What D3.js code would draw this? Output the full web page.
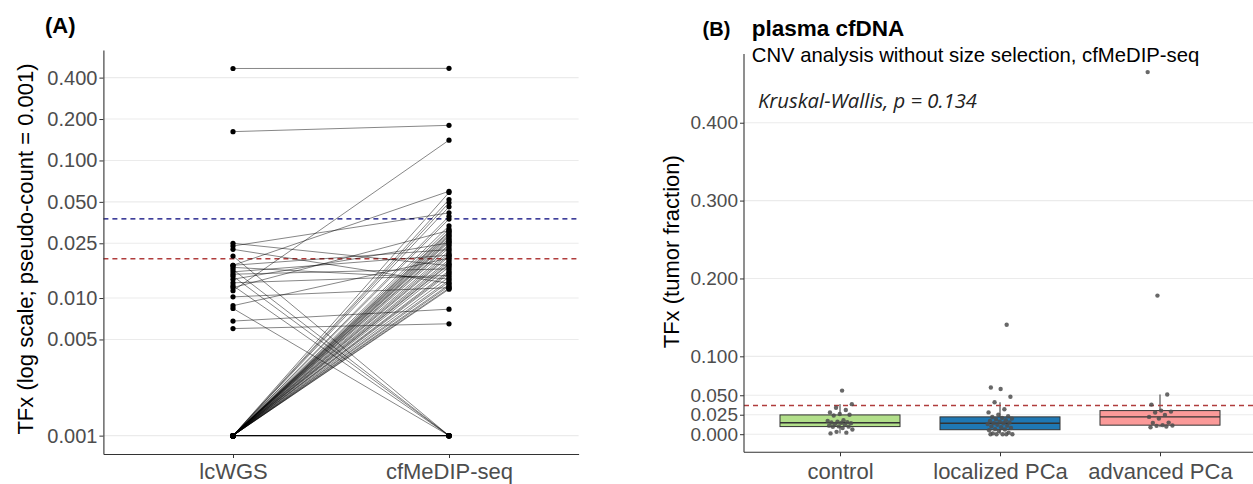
<!DOCTYPE html>
<html><head><meta charset="utf-8">
<script src="https://cdn.jsdelivr.net/npm/d3@7"></script>
<style>
body{margin:0;background:#fff;}
svg{display:block;font-family:"Liberation Sans",Arial,sans-serif;}
</style>
</head><body>
<svg id="c" width="1253" height="484"></svg>
<script>
// ---------------- Panel A data (paired samples, raw TFx) ----------------
const methods = ["lcWGS", "cfMeDIP-seq"];
const pseudoCount = 0.001;
const lcwgsTFx = [
  0.465, 0.161, 0.0103, 0.0240, 0.0229, 0.0216, 0.0192, 0.0163, 0.0163, 0.0157,
  0.0151, 0.0145, 0.0139, 0.0134, 0.0127, 0.0119, 0.0113, 0.0109, 0.0092, 0.0078,
  0.0074, 0.0058, 0.0050,
  0, 0, 0, 0, 0, 0, 0, 0, 0, 0,
  0, 0, 0, 0, 0, 0, 0, 0, 0, 0,
  0, 0, 0, 0, 0, 0, 0, 0, 0, 0,
  0, 0, 0, 0, 0, 0, 0, 0, 0,
  0, 0, 0, 0, 0, 0
];
const cfmedipTFx = [
  0.466, 0.179, 0.1395, 0.0162, 0.0406, 0.0118, 0, 0.0587, 0.0215, 0.0128,
  0, 0.0195, 0.0153, 0, 0.0242, 0.0136, 0, 0.0300, 0.0109, 0.0185,
  0, 0.0073, 0.0055,
  0.0575, 0.0510, 0.0482, 0.0450, 0.0383, 0.0365, 0.0325, 0.0308, 0.0295, 0.0290,
  0.0282, 0.0275, 0.0270, 0.0262, 0.0255, 0.0250, 0.0245, 0.0235, 0.0230, 0.0222,
  0.0210, 0.0202, 0.0195, 0.0190, 0.0180, 0.0174, 0.0168, 0.0165, 0.0158, 0.0148,
  0.0144, 0.0140, 0.0132, 0.0125, 0.0121, 0.0115, 0.0112, 0.0108, 0.0106,
  0, 0, 0, 0, 0, 0
];
const ticksA = [0.001, 0.005, 0.010, 0.025, 0.050, 0.100, 0.200, 0.400];
const thresholdBlueA = 0.0376;
const thresholdRedA = 0.0193;

// ---------------- Panel B data (cfMeDIP-seq TFx per group) ----------------
const groups = ["control", "localized PCa", "advanced PCa"];
const controlTFx = [0.001, 0.002, 0.003, 0.006, 0.008, 0.0095, 0.0097, 0.010, 0.011, 0.012,
  0.013, 0.014, 0.0145, 0.015, 0.0155, 0.016, 0.017, 0.018, 0.024, 0.025,
  0.026, 0.028, 0.031, 0.034, 0.0386, 0.056];
const localizedTFx = [0, 0, 0, 0, 0, 0.001, 0.002, 0.004, 0.005, 0.006,
  0.0065, 0.008, 0.009, 0.010, 0.011, 0.012, 0.013, 0.014, 0.0142, 0.015,
  0.016, 0.017, 0.018, 0.019, 0.020, 0.021, 0.022, 0.023, 0.025, 0.028,
  0.032, 0.041, 0.048, 0.058, 0.060, 0.1405];
const advancedTFx = [0.009, 0.0098, 0.0107, 0.0112, 0.0116, 0.0145, 0.0149, 0.020, 0.0222,
  0.0248, 0.0278, 0.029, 0.0303, 0.038, 0.051, 0.178, 0.465];
const ticksB = [0, 0.025, 0.050, 0.100, 0.200, 0.300, 0.400];
const thresholdRedB = 0.0368;
const groupColors = ["#b2df8a", "#1f78b4", "#fb9a99"];

// ---------------- drawing ----------------
const svg = d3.select("#c");
const fmt = d3.format(".3f");
const GRID = "#ebebeb", AXIS = "#333333", TXT = "#4d4d4d";
const RED = "#b03c3c", NAVY = "#00007a";

// ===== Panel A =====
const A = {left: 103.4, right: 578.6, top: 50, bottom: 454};
const pairs = lcwgsTFx.map((v, i) => ({a: v + pseudoCount, b: cfmedipTFx[i] + pseudoCount}));
const allA = pairs.flatMap(d => [d.a, d.b]);
const lmin = Math.log10(d3.min(allA)), lmax = Math.log10(d3.max(allA));
const padA = (lmax - lmin) * 0.05;
const yA = d3.scaleLog().domain([10 ** (lmin - padA), 10 ** (lmax + padA)]).range([A.bottom, A.top]);
const xA = d3.scalePoint().domain(methods).range([A.left, A.right]).padding(0.6);

const gA = svg.append("g");
gA.selectAll("line.grid").data(ticksA).join("line")
  .attr("x1", A.left).attr("x2", A.right)
  .attr("y1", d => yA(d)).attr("y2", d => yA(d))
  .attr("stroke", GRID).attr("stroke-width", 1.1);

gA.append("line").attr("x1", A.left).attr("x2", A.right)
  .attr("y1", yA(thresholdBlueA)).attr("y2", yA(thresholdBlueA))
  .attr("stroke", NAVY).attr("stroke-width", 1.4).attr("stroke-dasharray", "5,4");
gA.append("line").attr("x1", A.left).attr("x2", A.right)
  .attr("y1", yA(thresholdRedA)).attr("y2", yA(thresholdRedA))
  .attr("stroke", RED).attr("stroke-width", 1.4).attr("stroke-dasharray", "5,4");

gA.selectAll("line.pair").data(pairs).join("line")
  .attr("x1", xA(methods[0])).attr("x2", xA(methods[1]))
  .attr("y1", d => yA(d.a)).attr("y2", d => yA(d.b))
  .attr("stroke", "#000").attr("stroke-opacity", 0.5).attr("stroke-width", 0.95);

gA.selectAll("circle.a").data(pairs).join("circle")
  .attr("cx", xA(methods[0])).attr("cy", d => yA(d.a)).attr("r", 2.6).attr("fill", "#000");
gA.selectAll("circle.b").data(pairs).join("circle")
  .attr("cx", xA(methods[1])).attr("cy", d => yA(d.b)).attr("r", 2.6).attr("fill", "#000");

function styleAxis(g) {
  g.select(".domain").attr("stroke", AXIS).attr("stroke-width", 1.1);
  g.selectAll(".tick line").attr("stroke", AXIS).attr("stroke-width", 1);
  g.selectAll(".tick text").attr("fill", TXT).attr("font-family", '"Liberation Sans",Arial,sans-serif');
}
const axA = gA.append("g").attr("transform", `translate(${A.left},0)`)
  .call(d3.axisLeft(yA).tickValues(ticksA).tickFormat(fmt).tickSize(4).tickSizeOuter(0).tickPadding(2));
styleAxis(axA);
axA.selectAll(".tick text").attr("font-size", 20);

const axAx = gA.append("g").attr("transform", `translate(0,${A.bottom})`)
  .call(d3.axisBottom(xA).tickSize(4).tickSizeOuter(0));
styleAxis(axAx);
axAx.selectAll(".tick text").attr("font-size", 22).attr("y", 25).attr("dy", 0);

gA.append("text").attr("transform", "translate(25,249) rotate(-90)")
  .attr("text-anchor", "middle").attr("dominant-baseline", "central")
  .attr("font-size", 22).attr("fill", "#000").text("TFx (log scale; pseudo-count = 0.001)");
gA.append("text").attr("x", 45).attr("y", 33).attr("font-size", 22).attr("font-weight", "bold")
  .text("(A)");

// ===== Panel B =====
const B = {left: 744, right: 1256, top: 54, bottom: 452.3};
const groupData = [controlTFx, localizedTFx, advancedTFx];
const allB = groupData.flat();
const bmin = d3.min(allB), bmax = d3.max(allB), padB = (bmax - bmin) * 0.05;
const yB = d3.scaleLinear().domain([bmin - padB, bmax + padB]).range([B.bottom, B.top]);
const xB = d3.scalePoint().domain(groups).range([B.left, B.right]).padding(0.6);
const step = xB.step();
const boxW = step * 0.75;

const gB = svg.append("g");
gB.selectAll("line.grid").data(ticksB).join("line")
  .attr("x1", B.left).attr("x2", 1253)
  .attr("y1", d => yB(d)).attr("y2", d => yB(d))
  .attr("stroke", GRID).attr("stroke-width", 1.1);

groups.forEach((g, gi) => {
  const vals = groupData[gi].slice().sort(d3.ascending);
  const q1 = d3.quantile(vals, 0.25), med = d3.quantile(vals, 0.5), q3 = d3.quantile(vals, 0.75);
  const iqr = q3 - q1;
  const lo = d3.min(vals.filter(v => v >= q1 - 1.5 * iqr));
  const hi = d3.max(vals.filter(v => v <= q3 + 1.5 * iqr));
  const cx = xB(g);
  gB.append("line").attr("x1", cx).attr("x2", cx).attr("y1", yB(hi)).attr("y2", yB(q3))
    .attr("stroke", AXIS).attr("stroke-width", 1);
  gB.append("line").attr("x1", cx).attr("x2", cx).attr("y1", yB(q1)).attr("y2", yB(lo))
    .attr("stroke", AXIS).attr("stroke-width", 1);
  gB.append("rect").attr("x", cx - boxW / 2).attr("width", boxW)
    .attr("y", yB(q3)).attr("height", yB(q1) - yB(q3))
    .attr("fill", groupColors[gi]).attr("stroke", AXIS).attr("stroke-width", 1);
  gB.append("line").attr("x1", cx - boxW / 2).attr("x2", cx + boxW / 2)
    .attr("y1", yB(med)).attr("y2", yB(med)).attr("stroke", AXIS).attr("stroke-width", 1.4);
});

gB.append("line").attr("x1", B.left).attr("x2", 1253)
  .attr("y1", yB(thresholdRedB)).attr("y2", yB(thresholdRedB))
  .attr("stroke", RED).attr("stroke-width", 1.4).attr("stroke-dasharray", "5,4");

// deterministic horizontal spread (jitter) of points
const jitter = i => (((i * 0.6180339887 + 0.13) % 1) - 0.5) * 2 * step * 0.08;
groups.forEach((g, gi) => {
  gB.selectAll(null).data(groupData[gi]).join("circle")
    .attr("cx", (d, i) => xB(g) + jitter(i)).attr("cy", d => yB(d))
    .attr("r", 2.2).attr("fill", "#4d4d4d").attr("fill-opacity", 0.85);
});

const axB = gB.append("g").attr("transform", `translate(${B.left},0)`)
  .call(d3.axisLeft(yB).tickValues(ticksB).tickFormat(fmt).tickSize(4).tickSizeOuter(0).tickPadding(2));
styleAxis(axB);
axB.select(".domain").attr("d", `M0,${B.bottom}V${B.top}`);
axB.selectAll(".tick text").attr("font-size", 19);

const axBx = gB.append("g").attr("transform", `translate(0,${B.bottom})`)
  .call(d3.axisBottom(xB).tickSize(4).tickSizeOuter(0));
styleAxis(axBx);
axBx.select(".domain").attr("d", `M${B.left},0H1253`);
axBx.selectAll(".tick text").attr("font-size", 22).attr("y", 27).attr("dy", 0);

gB.append("text").attr("transform", "translate(671.7,251.7) rotate(-90)")
  .attr("text-anchor", "middle").attr("dominant-baseline", "central")
  .attr("font-size", 22).attr("fill", "#000").text("TFx (tumor fraction)");

gB.append("text").attr("x", 702.6).attr("y", 36).attr("font-size", 20).attr("font-weight", "bold").text("(B)");
gB.append("text").attr("x", 751.8).attr("y", 36).attr("font-size", 22.5).attr("font-weight", "bold").text("plasma cfDNA");
gB.append("text").attr("x", 751.8).attr("y", 62).attr("font-size", 20.3)
  .text("CNV analysis without size selection, cfMeDIP-seq");
const kw = gB.append("text").attr("x", 758).attr("y", 107.5)
  .attr("font-family", '"Open Sans",sans-serif').attr("font-style", "italic").attr("font-size", 17)
  .attr("fill", "#222").text("Kruskal-Wallis, p = 0.134");
const kwLen = kw.node().getComputedTextLength();
kw.attr("font-size", 17 * 219 / kwLen);
</script>
</body></html>
